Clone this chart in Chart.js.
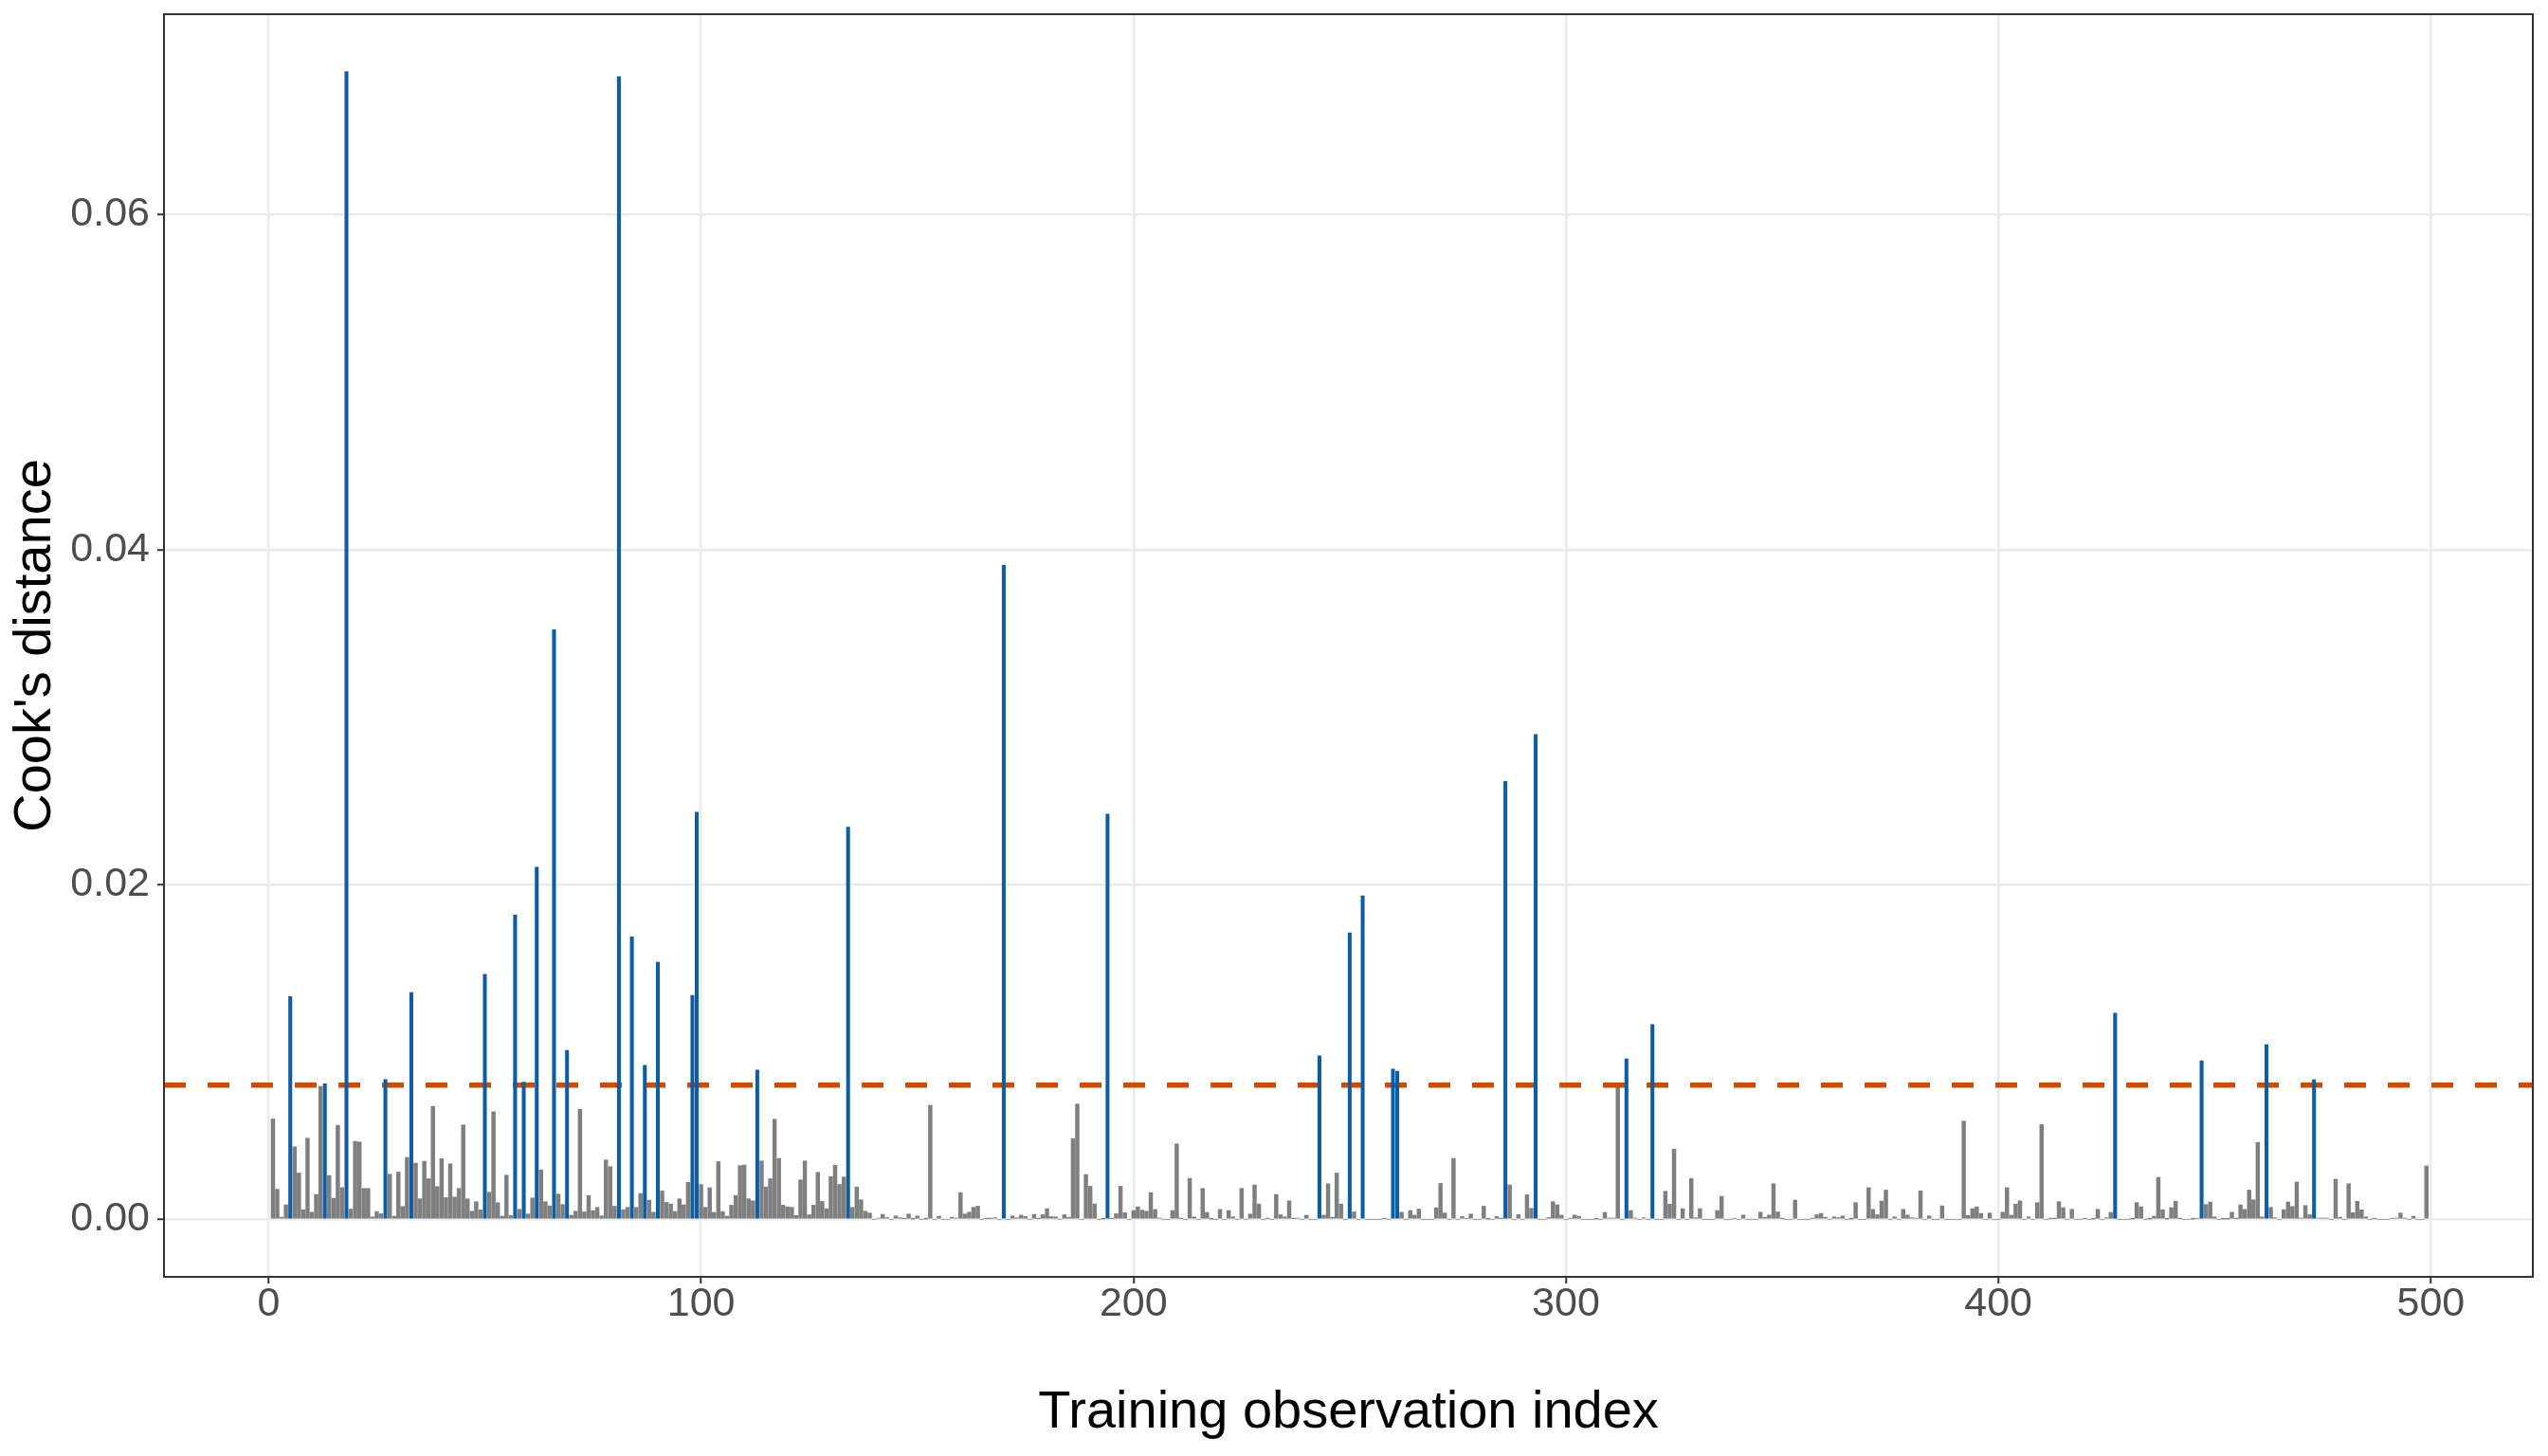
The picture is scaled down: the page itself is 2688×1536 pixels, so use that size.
<!DOCTYPE html>
<html>
<head>
<meta charset="utf-8">
<script src="https://cdn.jsdelivr.net/npm/chart.js@4.4.1/dist/chart.umd.min.js"></script>
<style>
  html, body { margin: 0; padding: 0; background: #fff; }
  #cooks { display: block; }
</style>
</head>
<body>
<canvas id="cooks" width="2688" height="1536"></canvas>
<script>
// Cook's distance per training observation (index 1..499)
const cooksD = [
  0.0060, 0.0018, 0.00013, 0.00087, 0.0133, 0.00434, 0.00277, 0.00058, 0.00485, 0.00043,
  0.00149, 0.00794, 0.0081, 0.00262, 0.00126, 0.00562, 0.0019, 0.06854, 0.00062, 0.00466,
  0.00462, 0.00185, 0.00185, 0.00015, 0.00047, 0.00034, 0.00836, 0.0027, 0.00019, 0.00283,
  0.00077, 0.0037, 0.01355, 0.00336, 0.00123, 0.00347, 0.00243, 0.00675, 0.00196, 0.00362,
  0.0013, 0.00332, 0.00134, 0.00185, 0.00564, 0.00123, 0.00049, 0.00106, 0.00057, 0.01464,
  0.00162, 0.00643, 0.001, 0.00019, 0.00264, 0.00023, 0.01817, 0.0006, 0.0082, 0.00032,
  0.00128, 0.02104, 0.00296, 0.00106, 0.00081, 0.03521, 0.00151, 0.00089, 0.0101, 0.00025,
  0.00049, 0.00658, 0.00045, 0.00142, 0.00053, 0.00072, 0.00021, 0.00355, 0.00315, 0.00079,
  0.06825, 0.00058, 0.00072, 0.01687, 0.00072, 0.00155, 0.0092, 0.00115, 0.00043, 0.01536,
  0.0017, 0.00102, 0.00092, 0.00047, 0.00123, 0.00087, 0.00221, 0.01338, 0.02432, 0.00208,
  0.00072, 0.00189, 0.00042, 0.00345, 0.00047, 0.00019, 0.00085, 0.00143, 0.00321, 0.00325,
  0.00123, 0.00111, 0.00892, 0.00349, 0.00194, 0.00243, 0.00598, 0.00364, 0.00085, 0.00075,
  0.00072, 0.00023, 0.00236, 0.00349, 0.00028, 0.00085, 0.00281, 0.00108, 0.00064, 0.00255,
  0.00323, 0.00209, 0.00253, 0.02343, 0.00072, 0.00194, 0.00117, 0.00049, 0.00038, 0,
  0.00008, 0.0003, 0.00011, 0, 0.00021, 0.0001, 0.00004, 0.00032, 0.00002, 0.00021,
  0, 0.00002, 0.00681, 0, 0.00019, 0, 0, 0.00013, 0.00008, 0.0016,
  0.00032, 0.00043, 0.00072, 0.00079, 0, 0.00004, 0.00004, 0.0001, 0, 0.03906,
  0, 0.00021, 0.0001, 0.00026, 0.00017, 0, 0.0003, 0.00004, 0.00028, 0.00064,
  0.00017, 0.00015, 0, 0.00028, 0.00013, 0.00483, 0.00689, 0, 0.00268, 0.00198,
  0.00092, 0, 0.00002, 0.02421, 0.00004, 0.00034, 0.00198, 0.0004, 0, 0.00053,
  0.00075, 0.00055, 0.00049, 0.0016, 0.0006, 0.00008, 0, 0, 0.00053, 0.00451,
  0.00004, 0, 0.00245, 0.00015, 0, 0.00185, 0.00042, 0.00002, 0, 0.0006,
  0, 0.00053, 0.00015, 0, 0.00185, 0, 0.00032, 0.00206, 0.00092, 0,
  0.00004, 0, 0.00149, 0.00028, 0.00015, 0.00111, 0.00004, 0.00008, 0, 0.00025,
  0, 0, 0.00977, 0.00025, 0.00213, 0.00013, 0.00277, 0.00092, 0, 0.01711,
  0.00045, 0, 0.01932, 0, 0, 0, 0, 0.00004, 0, 0.00898,
  0.00885, 0.00043, 0, 0.00053, 0.00025, 0.00062, 0, 0, 0, 0.0007,
  0.00215, 0.00038, 0, 0.00364, 0, 0.00017, 0.00006, 0.00032, 0, 0,
  0.00079, 0.00002, 0, 0.00017, 0.00004, 0.02616, 0.00206, 0, 0.00028, 0,
  0.00147, 0.00066, 0.02896, 0, 0, 0.00011, 0.00106, 0.00087, 0.00025, 0,
  0.00006, 0.00026, 0.00019, 0, 0, 0, 0.00002, 0, 0.00042, 0.00008,
  0.00008, 0.0079, 0, 0.00958, 0.00053, 0.00008, 0, 0.0001, 0, 0.01164,
  0, 0, 0.00168, 0.00091, 0.00419, 0, 0.00064, 0, 0.00245, 0.0001,
  0.00064, 0, 0, 0, 0.00053, 0.00138, 0, 0, 0.00006, 0,
  0.00026, 0, 0, 0, 0.00043, 0.00013, 0.00026, 0.00213, 0.00045, 0.00004,
  0, 0, 0.00115, 0, 0, 0, 0.00006, 0.00028, 0.00036, 0.00013,
  0, 0.00015, 0.00011, 0.00021, 0, 0.00002, 0.001, 0, 0, 0.0019,
  0.0006, 0.00028, 0.00109, 0.00175, 0, 0.00015, 0, 0.0006, 0.00026, 0.0001,
  0.00006, 0.0017, 0, 0.00021, 0, 0, 0.00081, 0, 0, 0,
  0, 0.00587, 0.00023, 0.00064, 0.00075, 0.00036, 0, 0.00038, 0, 0,
  0.00043, 0.0019, 0.00025, 0.00092, 0.00111, 0, 0.00015, 0, 0.001, 0.00566,
  0, 0.00004, 0.00004, 0.00106, 0.0007, 0, 0.0006, 0, 0, 0.00004,
  0, 0.00002, 0.0006, 0, 0.0001, 0.00042, 0.01232, 0, 0, 0,
  0.00002, 0.001, 0.00075, 0, 0.00002, 0.00019, 0.00251, 0.00058, 0.00002, 0.0007,
  0.00108, 0.00004, 0, 0, 0.00002, 0.00006, 0.00947, 0.00089, 0.00104, 0.00015,
  0, 0.00002, 0.00002, 0.00043, 0.00004, 0.00087, 0.0006, 0.00175, 0.00117, 0.0046,
  0.00015, 0.01043, 0.00072, 0.0001, 0, 0.00058, 0.00104, 0.00077, 0.00223, 0.00008,
  0.00083, 0.00028, 0.00834, 0.00008, 0.00008, 0.00008, 0, 0.0024, 0.00013, 0,
  0.00213, 0.0004, 0.00108, 0.00058, 0.00015, 0, 0.00004, 0, 0, 0,
  0.00006, 0.00008, 0.00038, 0.00008, 0, 0.00019, 0, 0, 0.00319
];
const obsIndex = cooksD.map((d, k) => k + 1);
const threshold = 4 / cooksD.length;   // the dashed 4/n line

const xTicks = [0, 100, 200, 300, 400, 500];
const yTicks = [0, 0.02, 0.04, 0.06];

// ggplot-style 5% expansion around the data
const xMin = -24.2, xMax = 523.6;
const yMin = -0.00343, yMax = 0.07197;

const normalPts = [];
const influentialPts = [];
obsIndex.forEach((x, k) => {
  const pt = { x: x, y: cooksD[k] };
  if (cooksD[k] > threshold) influentialPts.push(pt);
  else normalPts.push(pt);
});

const panelBorder = {
  id: 'panelBorder',
  afterDraw(chart) {
    const { ctx, chartArea: a } = chart;
    ctx.save();
    ctx.strokeStyle = '#333333';
    ctx.lineWidth = 2;
    ctx.strokeRect(a.left, a.top, a.right - a.left, a.bottom - a.top);
    ctx.restore();
  }
};

const fontFamily = "'Liberation Sans', Arial, Helvetica, sans-serif";

new Chart(document.getElementById('cooks'), {
  type: 'bar',
  data: {
    datasets: [
      {
        label: 'influential',
        data: influentialPts,
        backgroundColor: '#0D5DA6',
        barThickness: 3.4,
        grouped: false,
        order: 0
      },
      {
        type: 'line',
        label: '4/n',
        data: [{ x: xMin, y: threshold }, { x: xMax, y: threshold }],
        borderColor: '#CC4C02',
        borderWidth: 5.5,
        borderDash: [23, 23],
        borderCapStyle: 'butt',
        pointRadius: 0,
        fill: false,
        order: 1
      },
      {
        label: 'other',
        data: normalPts,
        backgroundColor: '#7F7F7F',
        barThickness: 3.8,
        grouped: false,
        order: 2
      }
    ]
  },
  options: {
    responsive: false,
    animation: false,
    devicePixelRatio: 1,
    layout: { padding: { top: 15, right: 16, left: 0, bottom: 0 } },
    plugins: {
      legend: { display: false },
      tooltip: { enabled: false }
    },
    scales: {
      x: {
        type: 'linear',
        min: xMin,
        max: xMax,
        offset: false,
        afterBuildTicks: s => { s.ticks = xTicks.map(v => ({ value: v })); },
        afterFit: s => { s.height = 189; s.paddingLeft = 0; s.paddingRight = 0; },
        border: { display: false },
        grid: {
          offset: false,
          color: '#EBEBEB',
          lineWidth: 2.5,
          drawTicks: true,
          tickLength: 7,
          tickColor: '#333333',
          tickWidth: 2
        },
        ticks: {
          padding: 1,
          color: '#4D4D4D',
          font: { family: fontFamily, size: 43, lineHeight: 1 },
          maxRotation: 0,
          callback: v => String(v)
        },
        title: {
          display: true,
          text: 'Training observation index',
          color: '#000000',
          font: { family: fontFamily, size: 56 },
          padding: { top: 0, bottom: 12 }
        }
      },
      y: {
        type: 'linear',
        min: yMin,
        max: yMax,
        afterBuildTicks: s => { s.ticks = yTicks.map(v => ({ value: v })); },
        afterFit: s => { s.width = 173; s.paddingTop = 0; s.paddingBottom = 0; },
        border: { display: false },
        grid: {
          color: '#EBEBEB',
          lineWidth: 2.5,
          drawTicks: true,
          tickLength: 7,
          tickColor: '#333333',
          tickWidth: 2
        },
        ticks: {
          padding: 8,
          color: '#4D4D4D',
          font: { family: fontFamily, size: 43 },
          callback: v => Number(v).toFixed(2)
        },
        title: {
          display: true,
          text: "Cook's distance",
          color: '#000000',
          font: { family: fontFamily, size: 56 },
          padding: { top: 4, bottom: 0 }
        }
      }
    }
  },
  plugins: [panelBorder]
});
</script>
</body>
</html>
